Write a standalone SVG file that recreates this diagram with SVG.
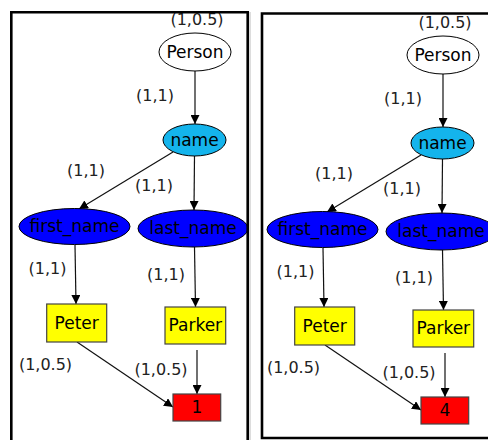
<svg xmlns="http://www.w3.org/2000/svg" width="488" height="440" viewBox="0 0 488 440">
<style>
.lbl{font-family:"DejaVu Sans",sans-serif;font-size:16px;fill:#222;text-anchor:middle}
.nt{font-family:"DejaVu Sans",sans-serif;font-size:17px;fill:#000;text-anchor:middle}
.e{stroke:#111;stroke-width:1.2;fill:none;marker-end:url(#ah)}
.ns{stroke:#000;stroke-width:1}
.rs{stroke:#444;stroke-width:1.2}
.frame{fill:none;stroke:#000;stroke-width:2.6}
</style>
<defs>
<marker id="ah" viewBox="0 0 10 10" refX="10" refY="5" markerWidth="9" markerHeight="9" markerUnits="userSpaceOnUse" orient="auto">
<path d="M0,0 L10,5 L0,10 z" fill="#000"/>
</marker>
</defs>
<rect width="488" height="440" fill="#fff"/>

<g id="panel1">
<g id="connectors1">
<path class="e" d="M195,71 L195,124"/>
<path class="e" d="M173,152 L79,209"/>
<path class="e" d="M194.5,156 L194,210"/>
<path class="e" d="M75,245 L76,304"/>
<path class="e" d="M194.5,247 L195.5,307"/>
<path class="e" d="M77,342 L173,407"/>
<path class="e" d="M197,350 L197,394"/>
<text class="lbl" x="197" y="25">(1,0.5)</text>
<text class="lbl" x="155" y="101">(1,1)</text>
<text class="lbl" x="86" y="176">(1,1)</text>
<text class="lbl" x="154" y="191">(1,1)</text>
<text class="lbl" x="47.5" y="274">(1,1)</text>
<text class="lbl" x="166" y="280">(1,1)</text>
<text class="lbl" x="45.5" y="370">(1,0.5)</text>
<text class="lbl" x="161" y="375">(1,0.5)</text>
</g>
<g id="p1-person"><ellipse class="ns" cx="195" cy="52" rx="36" ry="19" fill="#fff"/><text class="nt" x="195" y="58">Person</text></g>
<g id="p1-name"><ellipse class="ns" cx="194.5" cy="140" rx="31.5" ry="16" fill="#14b4ec"/><text class="nt" x="194.5" y="146">name</text></g>
<g id="p1-first_name"><ellipse class="ns" cx="74.5" cy="226.5" rx="55.5" ry="18" fill="#0000ff"/><text class="nt" x="74.5" y="232">first_name</text></g>
<g id="p1-last_name"><ellipse class="ns" cx="193" cy="228.5" rx="55" ry="18.5" fill="#0000ff"/><text class="nt" x="193" y="234">last_name</text></g>
<g id="p1-peter"><rect class="rs" x="46.7" y="304" width="60" height="38" fill="#ffff00"/><text class="nt" x="76.7" y="329">Peter</text></g>
<g id="p1-parker"><rect class="rs" x="165" y="307" width="60.7" height="37" fill="#ffff00"/><text class="nt" x="195.3" y="331">Parker</text></g>
<g id="p1-result"><rect class="rs" x="173" y="394" width="47.7" height="27" fill="#ff0000"/><text class="nt" x="197" y="413">1</text></g>
</g>

<g id="panel2" transform="translate(248,3)">
<g id="connectors2">
<path class="e" d="M195,71 L195,124"/>
<path class="e" d="M173,152 L79,209"/>
<path class="e" d="M194.5,156 L194,210"/>
<path class="e" d="M75,245 L76,304"/>
<path class="e" d="M194.5,247 L195.5,307"/>
<path class="e" d="M77,342 L173,407"/>
<path class="e" d="M197,350 L197,394"/>
<text class="lbl" x="197" y="25">(1,0.5)</text>
<text class="lbl" x="155" y="101">(1,1)</text>
<text class="lbl" x="86" y="176">(1,1)</text>
<text class="lbl" x="154" y="191">(1,1)</text>
<text class="lbl" x="47.5" y="274">(1,1)</text>
<text class="lbl" x="166" y="280">(1,1)</text>
<text class="lbl" x="45.5" y="370">(1,0.5)</text>
<text class="lbl" x="161" y="375">(1,0.5)</text>
</g>
<g id="p2-person"><ellipse class="ns" cx="195" cy="52" rx="36" ry="19" fill="#fff"/><text class="nt" x="195" y="58">Person</text></g>
<g id="p2-name"><ellipse class="ns" cx="194.5" cy="140" rx="31.5" ry="16" fill="#14b4ec"/><text class="nt" x="194.5" y="146">name</text></g>
<g id="p2-first_name"><ellipse class="ns" cx="74.5" cy="226.5" rx="55.5" ry="18" fill="#0000ff"/><text class="nt" x="74.5" y="232">first_name</text></g>
<g id="p2-last_name"><ellipse class="ns" cx="193" cy="228.5" rx="55" ry="18.5" fill="#0000ff"/><text class="nt" x="193" y="234">last_name</text></g>
<g id="p2-peter"><rect class="rs" x="46.7" y="304" width="60" height="38" fill="#ffff00"/><text class="nt" x="76.7" y="329">Peter</text></g>
<g id="p2-parker"><rect class="rs" x="165" y="307" width="60.7" height="37" fill="#ffff00"/><text class="nt" x="195.3" y="331">Parker</text></g>
<g id="p2-result"><rect class="rs" x="173" y="394" width="47.7" height="27" fill="#ff0000"/><text class="nt" x="197" y="413">4</text></g>
</g>

<g id="frames">
<path class="frame" d="M11.3,442 L11.3,12.3 L247.7,12.3 L247.7,442"/>
<line x1="250" y1="12" x2="250" y2="440" stroke="#bbb" stroke-width="1"/>
<path class="frame" d="M492,13.5 L262,13.5 L262,438 L492,438"/>
</g>
</svg>
